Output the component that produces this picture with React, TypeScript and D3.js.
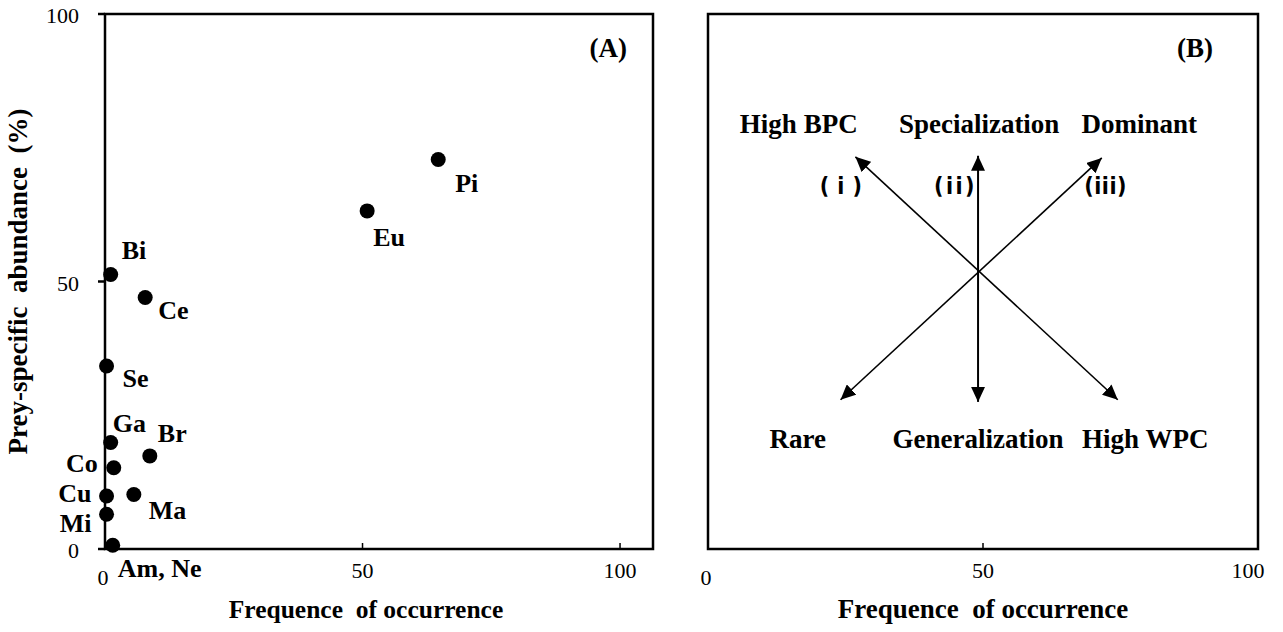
import React from "react";
import * as d3 from "d3";

// ---------- Panel A data ----------
const prey = ["Pi", "Eu", "Bi", "Ce", "Se", "Ga", "Br", "Co", "Cu", "Ma", "Mi", "Am, Ne"];
const frequence = [64.7, 50.9, 1.1, 7.8, 0.3, 1.1, 8.7, 1.7, 0.3, 5.6, 0.3, 1.5];
const abundance = [72.8, 63.2, 51.3, 47.0, 34.2, 19.9, 17.4, 15.2, 9.9, 10.2, 6.5, 0.7];

const xTicks = [0, 50, 100];
const yTicks = [0, 50, 100];
const xMaxA = 106.4;

// ---------- Panel B (conceptual diagram) ----------
const arrowNames = ["( i )", "(ii)", "(iii)"];
const arrowFromX = [26.8, 49.1, 71.6];
const arrowFromY = [73.3, 73.5, 73.1];
const arrowToX = [74.5, 49.1, 24.1];
const arrowToY = [27.9, 27.5, 27.9];
const arrowNameX = [24.2, 45.0, 72.3];
const arrowNameY = 66.4;

const topLabels = ["High BPC", "Specialization", "Dominant"];
const topLabelX = [16.5, 49.3, 78.4];
const topLabelY = 77.8;
const bottomLabels = ["Rare", "Generalization", "High WPC"];
const bottomLabelX = [16.3, 49.1, 79.5];
const bottomLabelY = 18.9;

// label placement relative to dot (layout only)
const labelLayout: Record<string, { dx: number; dy: number; anchor: string }> = {
  Pi: { dx: 17, dy: 32, anchor: "start" },
  Eu: { dx: 6, dy: 35, anchor: "start" },
  Bi: { dx: 11, dy: -16, anchor: "start" },
  Ce: { dx: 13, dy: 21, anchor: "start" },
  Se: { dx: 16, dy: 21, anchor: "start" },
  Ga: { dx: 2, dy: -11, anchor: "start" },
  Br: { dx: 8, dy: -14, anchor: "start" },
  Co: { dx: -16, dy: 4, anchor: "end" },
  Cu: { dx: -15, dy: 6, anchor: "end" },
  Ma: { dx: 15, dy: 25, anchor: "start" },
  Mi: { dx: -15, dy: 18, anchor: "end" },
  "Am, Ne": { dx: 5, dy: 32, anchor: "start" },
};

const W = 1283;
const H = 632;
const serif = "'Liberation Serif', 'Times New Roman', serif";
const sansBold = "'DejaVu Sans Condensed', 'DejaVu Sans', sans-serif";

export default function App() {
  const xA = d3.scaleLinear().domain([0, xMaxA]).range([105, 653]);
  const yA = d3.scaleLinear().domain([0, 100]).range([549, 14]);
  const xB = d3.scaleLinear().domain([0, 100]).range([708, 1258]);
  const yB = d3.scaleLinear().domain([0, 100]).range([549, 14]);

  const axisW = 2.5;

  return (
    <svg
      width={W}
      height={H}
      style={{ position: "absolute", left: 0, top: 0, background: "#fff" }}
      fontFamily={serif}
    >
      <defs>
        <marker
          id="ah"
          markerUnits="userSpaceOnUse"
          markerWidth={16}
          markerHeight={14}
          viewBox="0 0 16 14"
          refX={15}
          refY={7}
          orient="auto-start-reverse"
        >
          <path d="M0,0 L15,7 L0,14 Z" fill="#000" />
        </marker>
      </defs>
      <rect x={0} y={0} width={W} height={H} fill="#fff" />

      {/* ================= Panel A ================= */}
      <rect
        x={xA(0)}
        y={yA(100)}
        width={xA(xMaxA) - xA(0)}
        height={yA(0) - yA(100)}
        fill="none"
        stroke="#000"
        strokeWidth={axisW}
      />
      {yTicks.map((t) => (
        <g key={"ya" + t}>
          <line x1={xA(0) - 7} x2={xA(0)} y1={yA(t)} y2={yA(t)} stroke="#000" strokeWidth={axisW} />
          <text x={79} y={yA(t) + 9} textAnchor="end" fontSize={22} fill="#000">
            {t}
          </text>
        </g>
      ))}
      {xTicks.map((t) => (
        <g key={"xa" + t}>
          {t > 0 && (
            <line x1={xA(t)} x2={xA(t)} y1={yA(0)} y2={yA(0) - 6} stroke="#000" strokeWidth={1.5} />
          )}
          <text
            x={xA(t) - (t === 0 ? 2 : 0)}
            y={t === 0 ? 585 : 578}
            textAnchor="middle"
            fontSize={22}
            fill="#000"
          >
            {t}
          </text>
        </g>
      ))}
      {prey.map((p, i) => {
        const cx = xA(frequence[i]);
        const cy = yA(abundance[i]);
        const l = labelLayout[p];
        return (
          <g key={p}>
            <circle cx={cx} cy={cy} r={7.5} fill="#000" />
            <text
              x={cx + l.dx}
              y={cy + l.dy}
              textAnchor={l.anchor as any}
              fontSize={26}
              fontWeight="bold"
              fill="#000"
            >
              {p}
            </text>
          </g>
        );
      })}
      <text x={627} y={57} textAnchor="end" fontSize={27} fontWeight="bold">
        (A)
      </text>
      <text
        x={366}
        y={618}
        textAnchor="middle"
        fontSize={25.5}
        fontWeight="bold"
        style={{ whiteSpace: "pre" }}
      >
        Frequence  of occurrence
      </text>
      <text
        transform={`translate(27, ${(yA(0) + yA(100)) / 2}) rotate(-90)`}
        textAnchor="middle"
        fontSize={27}
        fontWeight="bold"
        style={{ whiteSpace: "pre" }}
      >
        Prey-specific  abundance  (%)
      </text>

      {/* ================= Panel B ================= */}
      <rect
        x={xB(0)}
        y={yB(100)}
        width={xB(100) - xB(0)}
        height={yB(0) - yB(100)}
        fill="none"
        stroke="#000"
        strokeWidth={axisW}
      />
      {xTicks.map((t) => (
        <g key={"xb" + t}>
          {t > 0 && t < 100 && (
            <line x1={xB(t)} x2={xB(t)} y1={yB(0)} y2={yB(0) - 6} stroke="#000" strokeWidth={1.5} />
          )}
          <text
            x={xB(t) - (t === 0 ? 2 : t === 100 ? 10 : 0)}
            y={t === 0 ? 585 : 578}
            textAnchor="middle"
            fontSize={22}
            fill="#000"
          >
            {t}
          </text>
        </g>
      ))}
      {arrowNames.map((n, i) => (
        <g key={n}>
          <line
            x1={xB(arrowFromX[i])}
            y1={yB(arrowFromY[i])}
            x2={xB(arrowToX[i])}
            y2={yB(arrowToY[i])}
            stroke="#000"
            strokeWidth={i === 1 ? 2 : 1.6}
            markerStart="url(#ah)"
            markerEnd="url(#ah)"
          />
          <text
            x={xB(arrowNameX[i])}
            y={yB(arrowNameY)}
            textAnchor="middle"
            fontSize={23}
            fontWeight="bold"
            fontFamily={sansBold}
            letterSpacing={i === 1 ? 2.5 : 0.5}
            style={{ whiteSpace: "pre" }}
          >
            {n}
          </text>
        </g>
      ))}
      {topLabels.map((t, i) => (
        <text key={t} x={xB(topLabelX[i])} y={yB(topLabelY)} textAnchor="middle" fontSize={27} fontWeight="bold">
          {t}
        </text>
      ))}
      {bottomLabels.map((t, i) => (
        <text
          key={t}
          x={xB(bottomLabelX[i])}
          y={yB(bottomLabelY)}
          textAnchor="middle"
          fontSize={27}
          fontWeight="bold"
        >
          {t}
        </text>
      ))}
      <text x={1213} y={57} textAnchor="end" fontSize={27} fontWeight="bold">
        (B)
      </text>
      <text
        x={(xB(0) + xB(100)) / 2}
        y={618}
        textAnchor="middle"
        fontSize={27}
        fontWeight="bold"
        style={{ whiteSpace: "pre" }}
      >
        Frequence  of occurrence
      </text>
    </svg>
  );
}
